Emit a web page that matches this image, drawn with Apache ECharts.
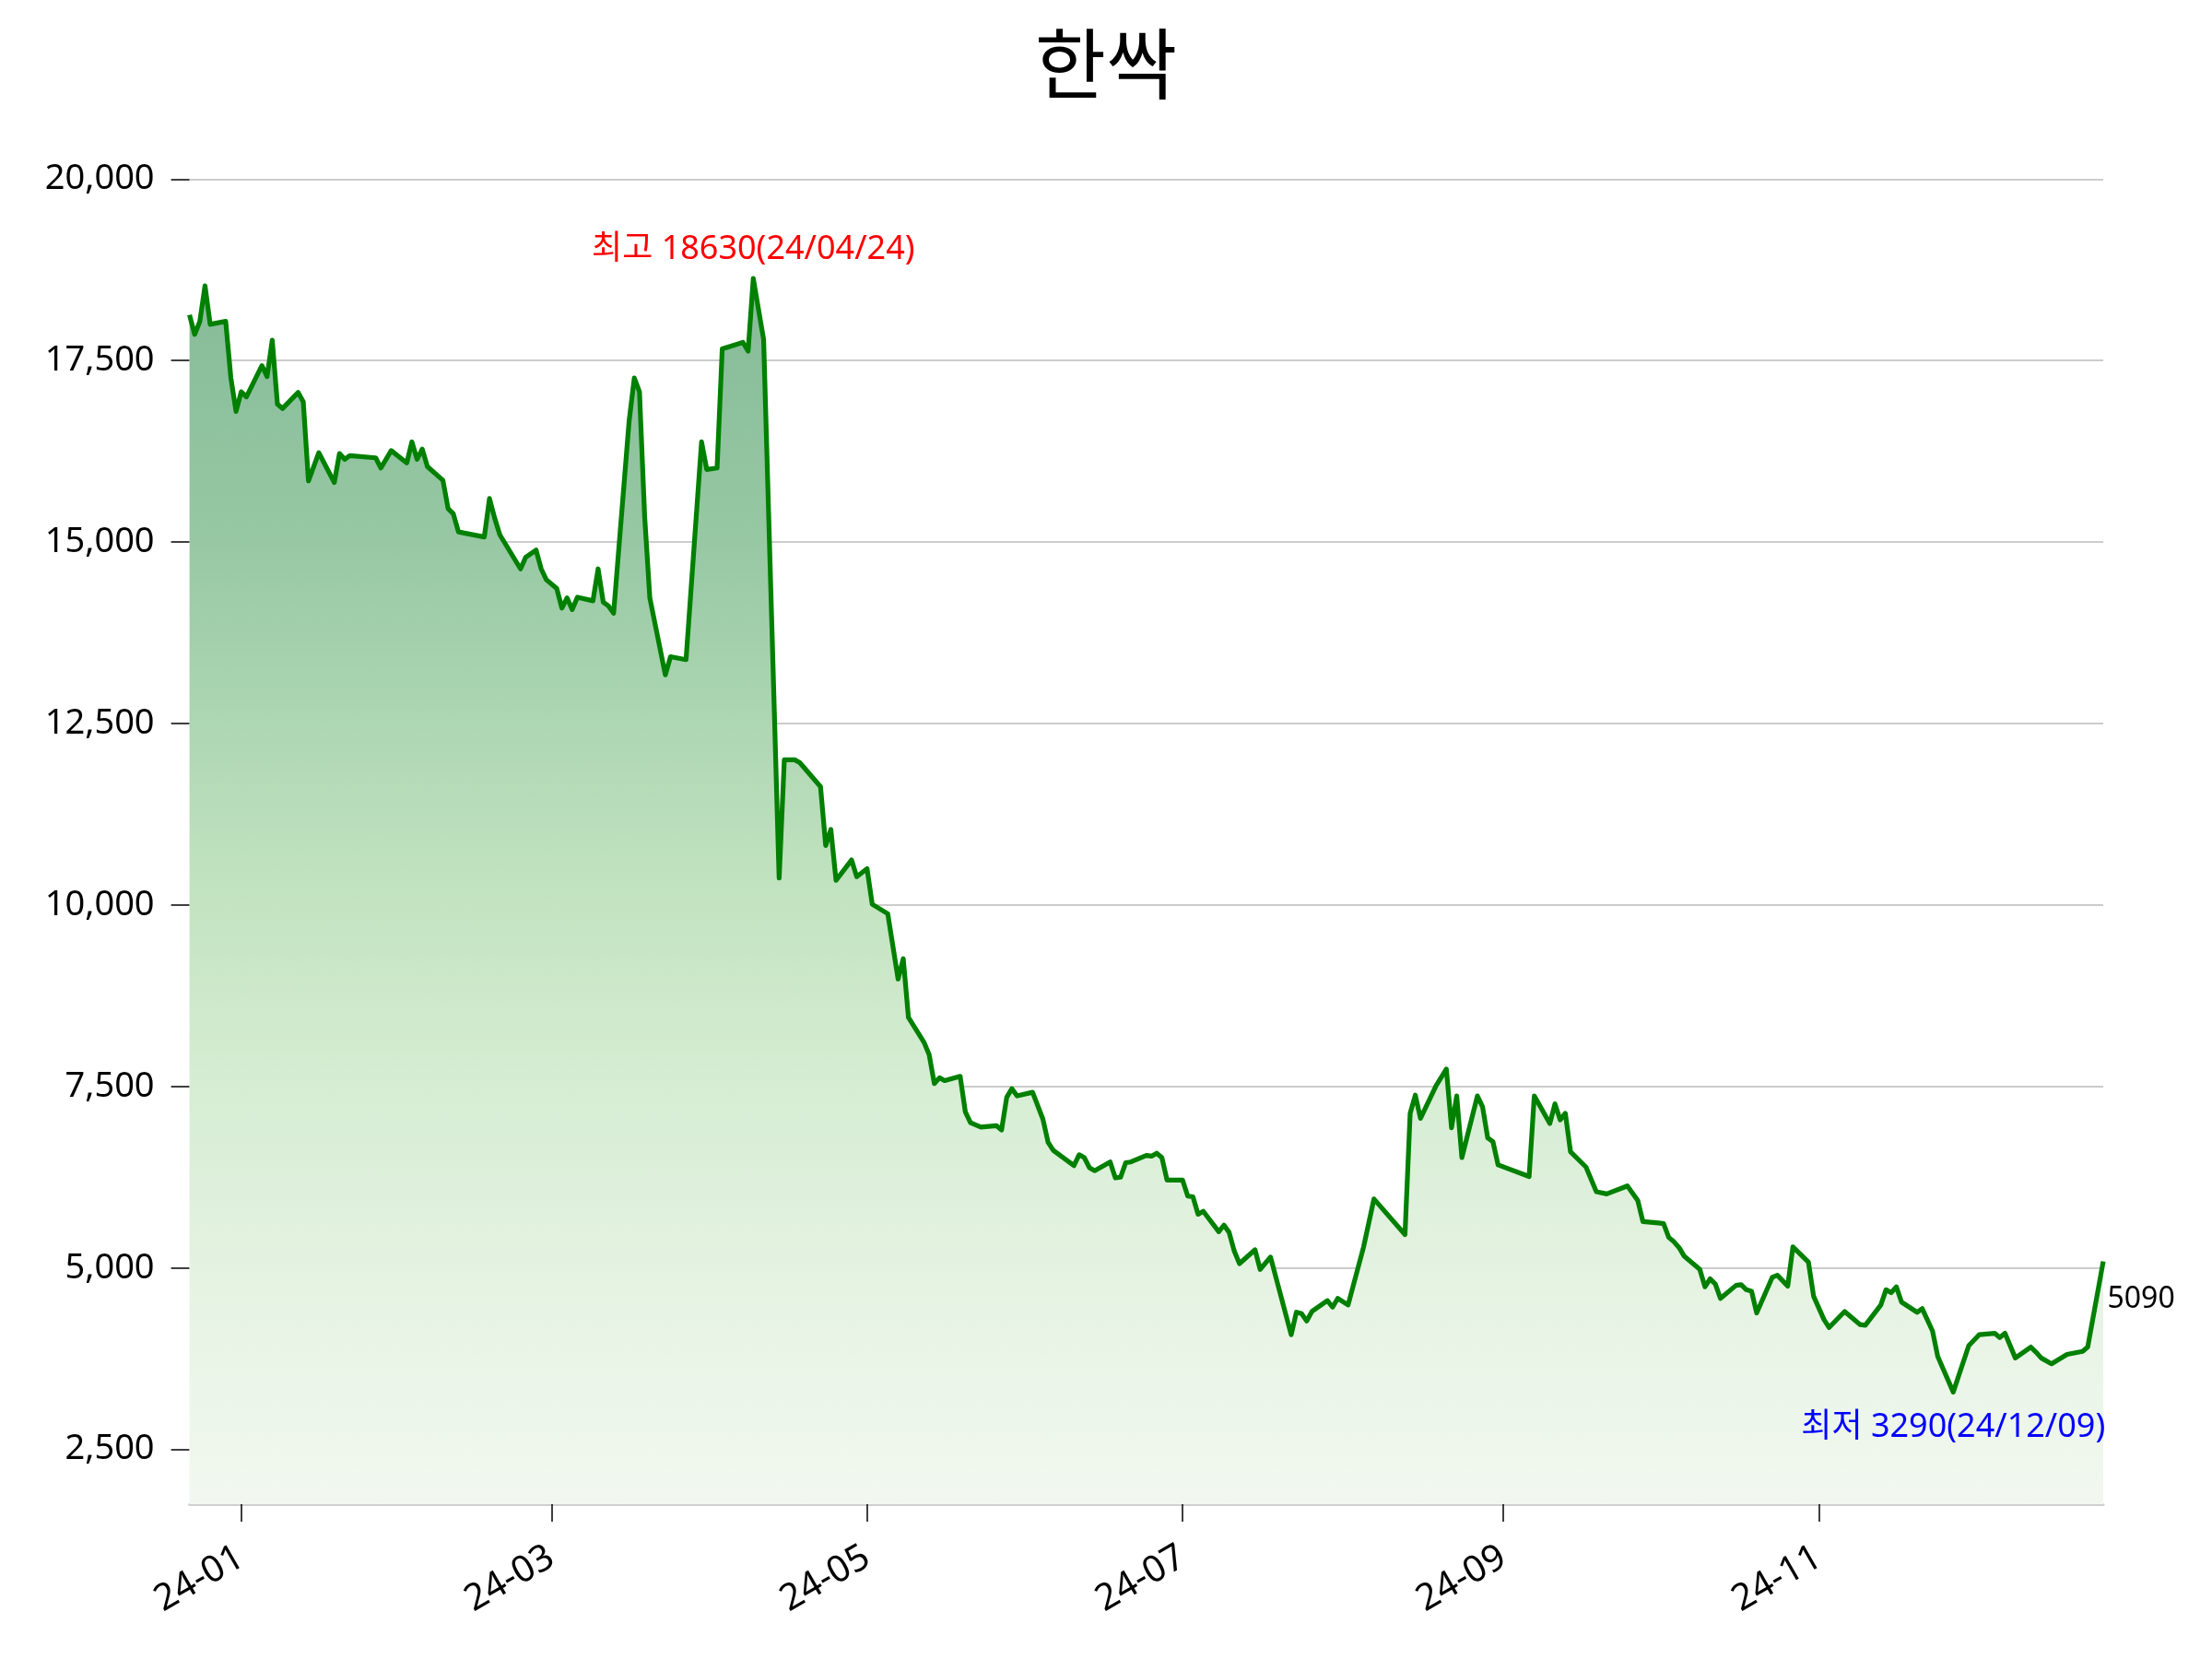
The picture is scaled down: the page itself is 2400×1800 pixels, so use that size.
<!DOCTYPE html>
<html><head><meta charset="utf-8">
<script src="https://cdn.jsdelivr.net/npm/echarts@6/dist/echarts.min.js"></script>
<style>html,body{margin:0;padding:0;background:#fff}#c{width:2400px;height:1800px}</style>
</head><body><div id="c"></div>
<script>
const chartTitle = '한싹';
const dates = [
'2023-12-22','2023-12-23','2023-12-24','2023-12-25','2023-12-26','2023-12-29','2023-12-30','2023-12-31',
'2024-01-01','2024-01-02','2024-01-05','2024-01-06','2024-01-07','2024-01-08','2024-01-09','2024-01-12',
'2024-01-13','2024-01-14','2024-01-16','2024-01-19','2024-01-20','2024-01-21','2024-01-22','2024-01-27',
'2024-01-28','2024-01-30','2024-02-02','2024-02-03','2024-02-04','2024-02-05','2024-02-06','2024-02-09',
'2024-02-10','2024-02-11','2024-02-12','2024-02-17','2024-02-18','2024-02-19','2024-02-20','2024-02-24',
'2024-02-25','2024-02-27','2024-02-28','2024-02-29','2024-03-02','2024-03-03','2024-03-04','2024-03-05',
'2024-03-06','2024-03-09','2024-03-10','2024-03-11','2024-03-12','2024-03-13','2024-03-16','2024-03-17',
'2024-03-18','2024-03-19','2024-03-20','2024-03-23','2024-03-24','2024-03-27','2024-03-30','2024-03-31',
'2024-04-02','2024-04-03','2024-04-07','2024-04-08','2024-04-09','2024-04-11','2024-04-14','2024-04-15',
'2024-04-17','2024-04-18','2024-04-22','2024-04-23','2024-04-24','2024-04-25','2024-04-28','2024-04-29',
'2024-05-01','2024-05-02','2024-05-05','2024-05-07','2024-05-08','2024-05-09','2024-05-12','2024-05-13',
'2024-05-14','2024-05-15','2024-05-16','2024-05-19','2024-05-20','2024-05-21','2024-05-23','2024-05-26',
'2024-05-27','2024-05-28','2024-05-29','2024-05-30','2024-06-02','2024-06-04','2024-06-05','2024-06-06',
'2024-06-10','2024-06-11','2024-06-12','2024-06-13','2024-06-14','2024-06-17','2024-06-18','2024-06-19',
'2024-06-20','2024-06-21','2024-06-24','2024-06-25','2024-06-26','2024-06-27','2024-06-28','2024-07-01',
'2024-07-02','2024-07-03','2024-07-04','2024-07-05','2024-07-08','2024-07-09','2024-07-10','2024-07-11',
'2024-07-12','2024-07-15','2024-07-16','2024-07-18','2024-07-22','2024-07-23','2024-07-24','2024-07-25',
'2024-07-26','2024-07-29','2024-07-30','2024-07-31','2024-08-02','2024-08-05','2024-08-07','2024-08-13',
'2024-08-14','2024-08-15','2024-08-16','2024-08-19','2024-08-21','2024-08-22','2024-08-23','2024-08-24',
'2024-08-27','2024-08-28','2024-08-29','2024-08-30','2024-08-31','2024-09-06','2024-09-07','2024-09-10',
'2024-09-11','2024-09-12','2024-09-13','2024-09-14','2024-09-17','2024-09-19','2024-09-21','2024-09-25',
'2024-09-27','2024-09-28','2024-10-01','2024-10-02','2024-10-03','2024-10-04','2024-10-05','2024-10-06',
'2024-10-09','2024-10-10','2024-10-11','2024-10-12','2024-10-13','2024-10-16','2024-10-17','2024-10-18',
'2024-10-19','2024-10-20','2024-10-23','2024-10-24','2024-10-26','2024-10-27','2024-10-30','2024-10-31',
'2024-11-02','2024-11-03','2024-11-06','2024-11-09','2024-11-10','2024-11-13','2024-11-14','2024-11-15',
'2024-11-16','2024-11-17','2024-11-20','2024-11-21','2024-11-23','2024-11-24','2024-11-27','2024-11-30',
'2024-12-02','2024-12-05','2024-12-06','2024-12-07','2024-12-09','2024-12-12','2024-12-13','2024-12-14',
'2024-12-16','2024-12-19','2024-12-22','2024-12-23','2024-12-26'
];
const prices = [
18130,17860,18040,18530,18000,18040,17260,16800,
17070,17000,17430,17280,17780,16900,16840,17060,
16930,15840,16230,15820,16220,16140,16190,16160,
16020,16260,16090,16380,16140,16280,16040,15850,
15460,15390,15140,15070,15600,15330,15100,14630,
14790,14890,14630,14480,14360,14090,14230,14070,
14240,14190,14630,14170,14120,14020,16670,17260,
17070,15350,14230,13170,13420,13380,16380,16000,
16020,17660,17750,17630,18630,17790,10370,12000,
12000,11960,11630,10820,11040,10340,10620,10390,
10500,10010,9880,8980,9260,8450,8110,7940,
7540,7620,7580,7640,7150,7000,6940,6960,
6900,7350,7470,7370,7420,7050,6730,6620,
6410,6560,6520,6380,6340,6460,6240,6250,
6450,6460,6550,6540,6580,6520,6210,6210,
5990,5980,5740,5780,5500,5590,5490,5230,
5060,5250,4980,5150,4080,4390,4370,4270,
4400,4550,4460,4580,4490,5290,5950,5460,
7130,7380,7060,7510,7740,6930,7370,6520,
7370,7220,6790,6740,6420,6260,7370,6990,
7260,7040,7130,6600,6390,6050,6020,6130,
5930,5640,5620,5610,5420,5360,5280,5160,
4980,4740,4850,4780,4580,4760,4770,4700,
4680,4380,4870,4900,4750,5290,5080,4610,
4290,4180,4400,4220,4210,4490,4700,4660,
4740,4530,4390,4440,4130,3780,3290,3930,
4080,4100,4040,4100,3760,3910,3840,3760,
3680,3810,3850,3910,5090
];
const yTicks = [2500, 5000, 7500, 10000, 12500, 15000, 17500, 20000];
const xTickDates = ['2024-01-01','2024-03-01','2024-05-01','2024-07-01','2024-09-01','2024-11-01'];
const xTickLabels = ['24-01','24-03','24-05','24-07','24-09','24-11'];
const maxLabelPrefix = '최고';
const minLabelPrefix = '최저';
const maxDateText = '24/04/24';
const minDateText = '24/12/09';
const yMin = 1746, yMax = 20000;
const xStart = '2023-12-22', xEnd = '2024-12-26';

function parseDay(s){const p=s.split('-').map(Number);return new Date(p[0],p[1]-1,p[2]).getTime();}
const ts = dates.map(parseDay);
const seriesData = ts.map((t,i)=>[t, prices[i]]);
let iMax=0,iMin=0;
prices.forEach((v,i)=>{if(v>prices[iMax])iMax=i;if(v<prices[iMin])iMin=i;});
const iLast = prices.length-1;
const xTickTs = xTickDates.map(parseDay);

const FONT = '"Noto Sans", "Noto Sans CJK KR", sans-serif';
const chart = echarts.init(document.getElementById('c'), null, {renderer:'canvas'});
chart.setOption({
  animation:false,
  backgroundColor:'#ffffff',
  title:{text:chartTitle,left:'center',top:22,textStyle:{fontSize:84,fontWeight:'normal',color:'#000',fontFamily:'"Noto Sans CJK KR", sans-serif'}},
  grid:{left:205.6,right:118,top:194.3,bottom:168,containLabel:false},
  xAxis:{
    type:'value', min:parseDay(xStart), max:parseDay(xEnd), scale:true,
    axisLine:{show:true,onZero:false,lineStyle:{color:'#d0d0d0',width:3}},
    axisTick:{show:true,customValues:xTickTs,length:19,lineStyle:{color:'#000',width:1.5}},
    axisLabel:{show:true,customValues:xTickTs,rotate:30,margin:55,fontSize:40,color:'#000',fontFamily:FONT,
      formatter:function(v){let k=-1;xTickTs.forEach((t,j)=>{if(Math.abs(t-v)<1000)k=j;});return k>=0?xTickLabels[k]:'';}},
    splitLine:{show:false}
  },
  yAxis:{
    type:'value', min:yMin, max:yMax,
    axisLine:{show:false},
    axisTick:{show:true,customValues:yTicks,length:20,lineStyle:{color:'#000',width:1.5}},
    axisLabel:{show:true,customValues:yTicks,margin:38,fontSize:38,color:'#000',fontFamily:FONT,
      formatter:function(v){return Number(v).toLocaleString('en-US');}},
    splitLine:{show:true,lineStyle:{color:'#cccccc',width:2}}
  },
  series:[{
    type:'line', data:seriesData, showSymbol:false, symbol:'none',
    lineStyle:{color:'#008000',width:5.2,join:'round'},
    areaStyle:{opacity:1,color:new echarts.graphic.LinearGradient(0,0,0,1,[
      {offset:0,color:'#86bb98'},{offset:0.2,color:'#95c7a2'},{offset:0.5,color:'#c2e3c0'},
      {offset:0.66,color:'#d6edd3'},{offset:0.83,color:'#e6f3e3'},{offset:1,color:'#f2f8f0'}])},
    markPoint:{
      symbol:'circle', symbolSize:1, silent:true, itemStyle:{color:'rgba(0,0,0,0)'},
      data:[
        {coord:[ts[iMax],prices[iMax]],label:{show:true,position:'top',distance:13,fontSize:36,color:'#ff0000',fontFamily:FONT,
          formatter:maxLabelPrefix+' '+prices[iMax]+'('+maxDateText+')'}},
        {coord:[ts[iMin],prices[iMin]],label:{show:true,position:'bottom',distance:20,fontSize:36,color:'#0000ff',fontFamily:FONT,
          formatter:minLabelPrefix+' '+prices[iMin]+'('+minDateText+')'}},
        {coord:[ts[iLast],prices[iLast]],label:{show:true,position:'right',distance:4,offset:[0,41],fontSize:32,color:'#000',fontFamily:FONT,
          formatter:String(prices[iLast])}}
      ]
    }
  }]
});
</script></body></html>
